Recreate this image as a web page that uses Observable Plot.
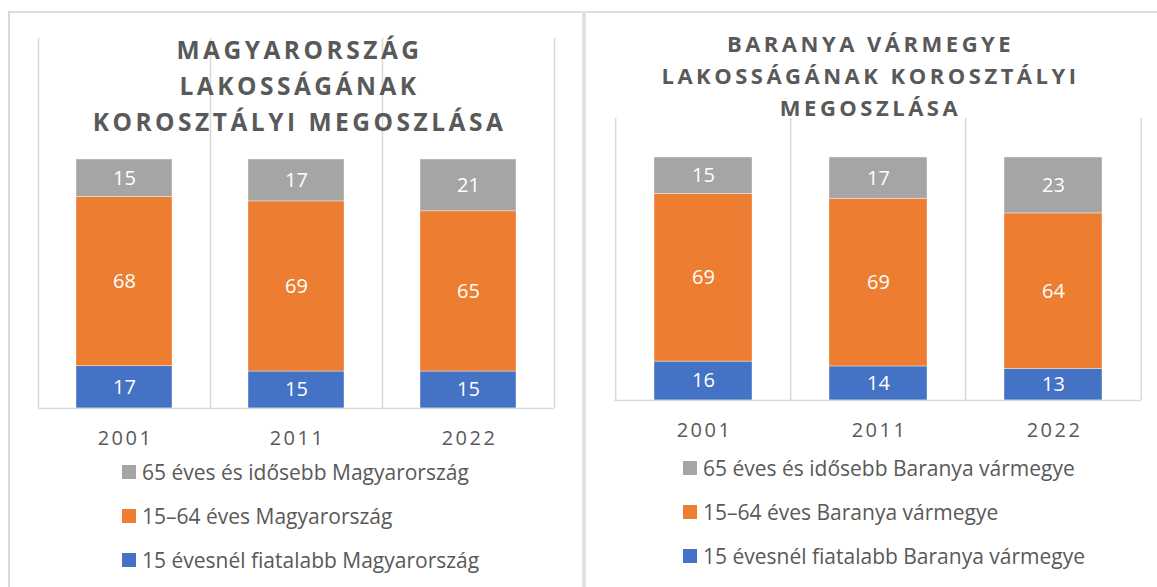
<!DOCTYPE html>
<html><head><meta charset="utf-8">
<script src="https://cdn.jsdelivr.net/npm/d3@7"></script>
<script src="https://cdn.jsdelivr.net/npm/@observablehq/plot@0.6"></script>
<style>
body{margin:0;width:1157px;height:587px;position:relative;background:#fff;overflow:hidden;font-family:"Open Sans",sans-serif;}
.line{position:absolute;background:#D9D9D9}
.title{position:absolute;text-align:center;font-weight:700;color:#595959;white-space:nowrap}
.row{position:absolute;white-space:nowrap;display:flex;align-items:center;color:#595959;font-size:21px;height:28px;line-height:28px}
.sw{width:14px;height:14px;margin-right:6px;flex:none}
.chart{position:absolute;top:0}
.chart svg g[aria-label="x-axis tick label"] text{letter-spacing:2.5px}
</style></head><body>
<div class="line" style="left:8px;top:11px;width:1149px;height:2px;background:#DEDEDE"></div>
<div class="line" style="left:8px;top:11px;width:2px;height:576px"></div>
<div class="line" style="left:582px;top:11px;width:4px;height:576px;background:#E2E2E2"></div>
<div id="left" class="chart" style="left:0"></div>
<div id="right" class="chart" style="left:580px"></div>
<script>
// ---- data ----
const years = ["2001", "2011", "2022"];
const groups = ["15 évesnél fiatalabb", "15–64 éves", "65 éves és idősebb"];
const colors = ["#4472C4", "#ED7D31", "#A5A5A5"];

const huYoung   = [17, 15, 15];
const huWorking = [68, 69, 65];
const huOld     = [15, 17, 21];

const baYoung   = [16, 14, 13];
const baWorking = [69, 69, 64];
const baOld     = [15, 17, 23];

const huTitle = ["MAGYARORSZÁG", "LAKOSSÁGÁNAK", "KOROSZTÁLYI MEGOSZLÁSA"];
const baTitle = ["BARANYA VÁRMEGYE", "LAKOSSÁGÁNAK KOROSZTÁLYI", "MEGOSZLÁSA"];
const huSuffix = "Magyarország";
const baSuffix = "Baranya vármegye";

function buildData(young, working, old) {
  const out = [];
  years.forEach((yr, i) => {
    out.push({year: yr, group: groups[0], value: young[i]});
    out.push({year: yr, group: groups[1], value: working[i]});
    out.push({year: yr, group: groups[2], value: old[i]});
  });
  return out;
}

function chart(data, o) {
  const plotW = o.width - o.ml - o.mr;
  const step = plotW / years.length;
  const grid = {stroke: "#D9D9D9", strokeWidth: 1.5};
  return Plot.plot({
    width: o.width, height: o.height,
    marginLeft: o.ml, marginRight: o.mr, marginTop: o.mt, marginBottom: o.mb,
    style: {fontFamily: "Open Sans", fontSize: "20px", color: "#595959", background: "transparent", overflow: "visible"},
    x: {domain: years, paddingInner: 0.44, paddingOuter: 0.22, label: null, axis: null},
    y: {domain: [0, o.yMax], axis: null},
    color: {domain: groups, range: colors},
    marks: [
      Plot.ruleX(years, {x: d => d, dx: -step / 2, ...grid}),
      Plot.ruleX([years[years.length - 1]], {x: d => d, dx: step / 2, ...grid}),
      Plot.barY(data, Plot.stackY({x: "year", y: "value", z: "group", fill: "group", offset: "normalize", stroke: "#ffffff", strokeOpacity: 0.5, strokeWidth: 0.75})),
      Plot.text(data, Plot.stackY({x: "year", y: "value", z: "group", offset: "normalize", text: "value", fill: "white", fontSize: 20})),
      Plot.ruleY([0], grid),
      Plot.axisX({tickSize: 0, tickPadding: 22, fontSize: 20, dx: 1, label: null})
    ]
  });
}

document.getElementById("left").appendChild(
  chart(buildData(huYoung, huWorking, huOld), {width: 580, height: 470, ml: 38, mr: 26, mt: 38, mb: 62, yMax: 370 / 249})
);
document.getElementById("right").appendChild(
  chart(buildData(baYoung, baWorking, baOld), {width: 577, height: 460, ml: 34, mr: 16, mt: 118, mb: 60, yMax: 282 / 243})
);

function title(lines, left, top, width, fs, lh, ls) {
  const d = document.createElement("div");
  d.className = "title";
  Object.assign(d.style, {left: left + "px", top: top + "px", width: width + "px", fontSize: fs + "px", lineHeight: lh + "px", letterSpacing: ls + "px", paddingLeft: ls + "px"});
  d.innerHTML = lines.map(l => `<div>${l}</div>`).join("");
  document.body.appendChild(d);
}
title(huTitle, 38, 32, 516, 24.5, 36, 3.5);
title(baTitle, 617, 27, 500, 22, 32, 3.5);

function legend(suffix, left, centers) {
  [2, 1, 0].forEach((gi, k) => {
    const r = document.createElement("div");
    r.className = "row";
    r.style.left = left + "px";
    r.style.top = (centers[k] - 14) + "px";
    r.innerHTML = `<span class="sw" style="background:${colors[gi]}"></span><span>${groups[gi]} ${suffix}</span>`;
    document.body.appendChild(r);
  });
}
legend(huSuffix, 122, [472, 516, 560]);
legend(baSuffix, 683, [468, 512, 556]);
</script>
</body></html>
